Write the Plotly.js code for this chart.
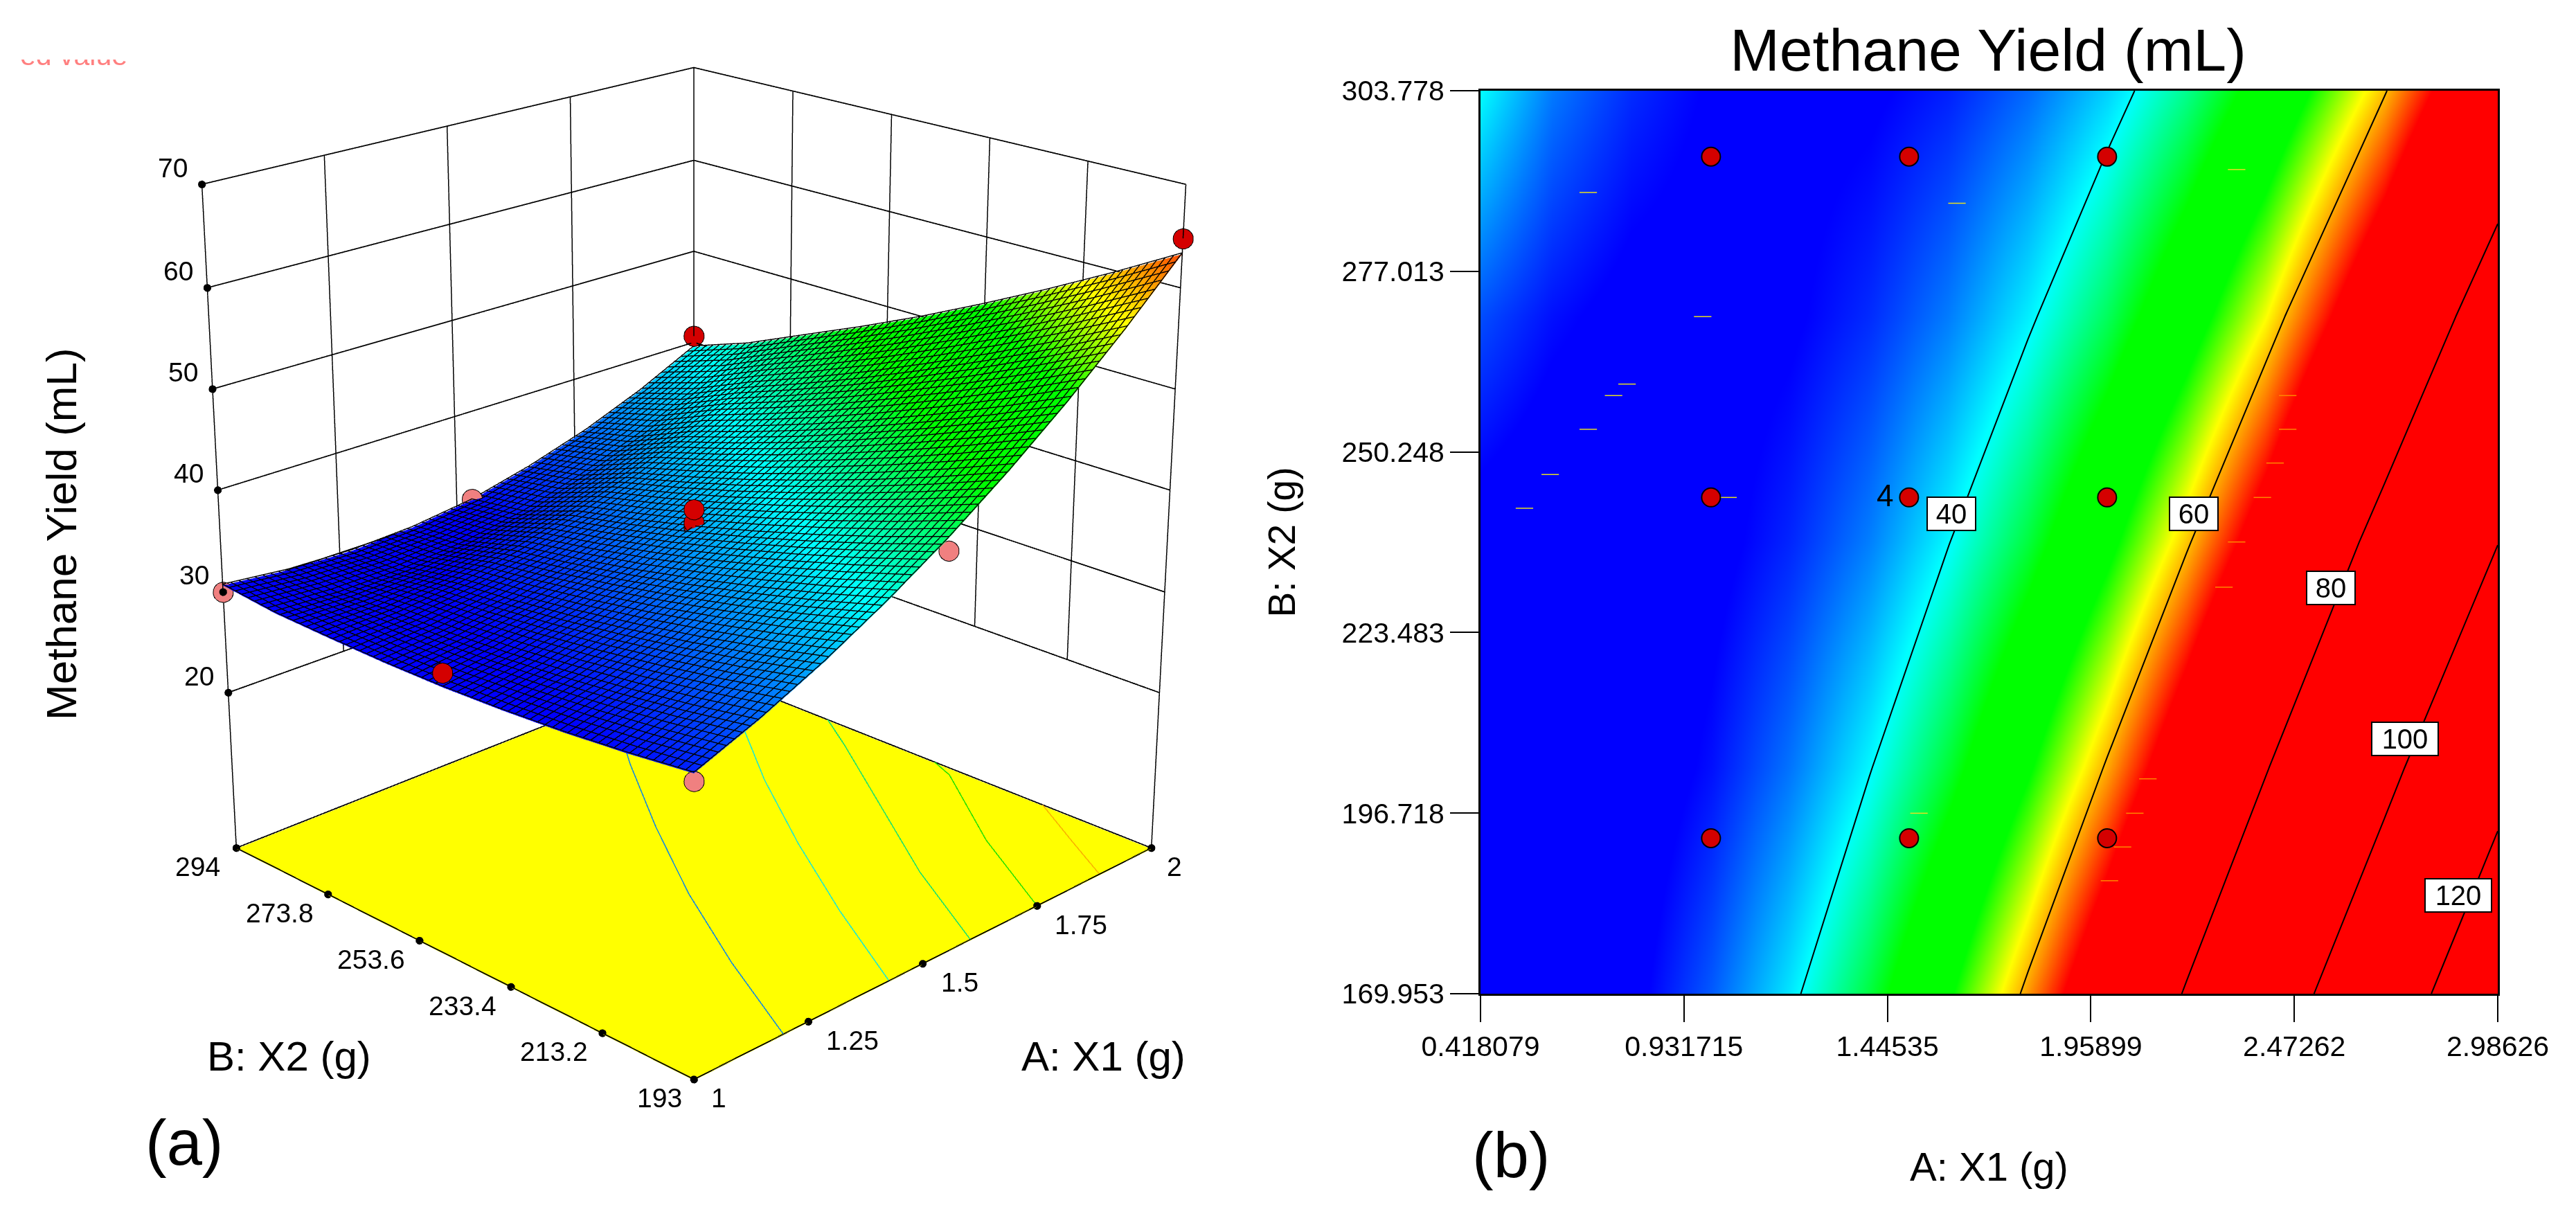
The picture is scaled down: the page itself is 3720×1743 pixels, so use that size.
<!DOCTYPE html>
<html><head><meta charset="utf-8">
<script src="https://cdn.plot.ly/plotly-3.0.1.min.js"></script>
<style>
html,body{margin:0;padding:0;background:#fff;width:3720px;height:1743px;overflow:hidden}
#wrap{position:relative;width:3720px;height:1743px;overflow:hidden}
#a{position:absolute;left:2px;top:-1341px;width:2000px;height:4206px}
#b{position:absolute;left:0;top:0;width:3720px;height:1743px}
</style></head><body>
<div id="wrap"><div id="a"></div><div id="b"></div></div>
<script>
var FONT='Liberation Sans, Arial, sans-serif';
// ---- panel (a): response surface
var surfA=[1,1.125,1.25,1.375,1.5,1.625,1.75,1.875,2];
var surfB=[193,205.625,218.25,230.875,243.5,256.125,268.75,281.375,294];
var surfZ=[
[32.79,35.17,37.95,41.17,44.79,48.86,53.32,58.23,63.55],
[32.04,34.06,36.51,39.38,42.67,46.39,50.52,55.08,60.06],
[31.46,33.14,35.26,37.79,40.74,44.11,47.90,52.12,56.76],
[31.06,32.39,34.16,36.36,38.97,42.00,45.45,49.33,53.63],
[30.81,31.80,33.24,35.08,37.35,40.03,43.15,46.68,50.64],
[30.75,31.40,32.49,34.00,35.92,38.27,41.05,44.24,47.86],
[30.84,31.16,31.91,33.08,34.67,36.67,39.11,41.96,45.24],
[31.00,30.75,30.90,31.50,32.60,34.40,36.60,39.40,42.60],
[31.57,30.90,30.70,31.00,31.80,33.30,35.20,37.60,40.50]];
var aTicks=[1,1.25,1.5,1.75,2];
var aTickText=['1','1.25','1.5','1.75','2'];
var aTickPos=[1,1.2266,1.4678,1.725,2];
var bTicks=[193,213.2,233.4,253.6,273.8,294];
var bTickText=['193','213.2','233.4','253.6','273.8','294'];
var bTickPos=[193,211.2,230.3,250.4,271.6,294];
var zTicks=[20,30,40,50,60,70];
var zTickPos=[20.7,30.9,41.0,50.8,60.4,70];
var zFloor=4.4;
var meshCells=66;
var redA=[2,2,1,1.5,1.5,1.5];
var redB=[193,294,243.5,243.5,243.5,243.5];
var redZ=[65,41.7,32.2,39.1,37.8,37.4];
var pinkA=[1,1,1.5,1.5,2];
var pinkB=[294,193,193,294,243.5];
var pinkZ=[30.9,32.1,43.6,31.9,49];
// floor contours, read from the yellow base
var floorLines=[
 {c:'#0a84e8',a:[1.176,1.275,1.385,1.51,1.645,1.80],b:[193,213,233,253,273,294]},
 {c:'#14e6d8',a:[1.395,1.505,1.625,1.755,1.90,2],b:[193,213,233,253,273,286]},
 {c:'#10e070',a:[1.573,1.685,1.815,1.945,2],b:[193,213,233,253,262]},
 {c:'#20e000',a:[1.725,1.84,1.98,2],b:[193,213,233,238]},
 {c:'#f8b000',a:[1.873,1.93,2],b:[193,203,215]}];

// ---- panel (b): contour map
var mapX=[0.418079,0.6,0.8,1.0,1.2,1.4,1.6,1.8,2.0,2.2,2.4,2.7,2.98626];
var mapY=[169.953,203.41,236.87,270.32,303.778];
var mapZ=[
[25.6,27.29,30.17,34.14,39.18,45.3,52.51,60.79,70.15,80.6,92.12,111.43,132.1],
[27.1,27.5,29.0,31.5,35.1,39.8,45.6,52.5,60.4,69.4,79.5,96.7,115.3],
[29.8,28.9,28.9,30.1,32.3,35.5,39.9,45.3,51.9,59.5,68.1,83.2,99.8],
[33.7,31.5,30.1,29.8,30.6,32.5,35.4,39.4,44.5,50.7,57.9,70.8,85.4],
[40,35.3,32.5,30.77,30.13,30.56,32.08,34.67,38.35,43.1,48.94,59.71,72.24]];
var ptX=[1,1.5,2,1,1.5,2,1,1.5,2];
var ptY=[294,294,294,243.5,243.5,243.5,193,193,193];
var dashX=[0.690,1.621,0.979,0.788,0.754,0.690,0.594,0.529,1.043,2.327,2.456,2.456,2.424,2.392,2.327,2.295,1.525,2.103,2.070,2.039,2.006];
var dashY=[288.7,287.1,270.3,260.3,258.6,253.6,246.9,241.9,243.5,292.1,258.6,253.6,248.6,243.5,236.9,230.2,196.7,201.8,196.7,191.7,186.7];
var dashC=['#e8e020','#e8e020','#e8e020','#e8e020','#e8e020','#e8e020','#e8e020','#e8e020','#e8e020','#e8e020',
 '#ff8800','#ff8800','#ff8800','#ff8800','#ff8800','#ff8800','#e8e020','#ff8800','#ff8800','#ff8800','#ff8800'];
var xTickVals=[0.418079,0.931715,1.44535,1.95899,2.47262,2.98626];
var xTickText=['0.418079','0.931715','1.44535','1.95899','2.47262','2.98626'];
var yTickVals=[169.953,196.718,223.483,250.248,277.013,303.778];
var yTickText=['169.953','196.718','223.483','250.248','277.013','303.778'];
var levelLabels=['40','60','80','100','120'];
var levelX=[1.607,2.219,2.565,2.752,2.886];
var levelY=[241.1,241.1,230.1,207.7,184.5];

var zMin=31,zMax=65;
var scale=[[0,'#0000ff'],[0.2647,'#00ffff'],[0.4706,'#00ff00'],[0.647,'#00ff00'],[0.794,'#ffff00'],[1,'#ff0000']];

// wall and floor frame from the tick arrays
var a0=aTicks[0],a1=aTicks[aTicks.length-1],b0=bTicks[0],b1=bTicks[bTicks.length-1];
var zTop=zTickPos[zTickPos.length-1],zBot=zTickPos[0];
var hx=[],hy=[],hz=[],vx=[],vy=[],vz=[];
zTickPos.forEach(function(z){hx.push(a0,a1,a1,null);hy.push(b1,b1,b0,null);hz.push(z,z,z,null);});
aTickPos.slice(1,-1).forEach(function(a){vx.push(a,a,null);vy.push(b1,b1,null);vz.push(zBot,zTop,null);});
bTickPos.slice(1,-1).forEach(function(b){vx.push(a1,a1,null);vy.push(b,b,null);vz.push(zBot,zTop,null);});
vx.push(a0,a0,null,a1,a1,null,a1,a1,null);
vy.push(b1,b1,null,b0,b0,null,b1,b1,null);
vz.push(zFloor,zTop,null,zFloor,zTop,null,zBot,zTop,null);

// mesh drawn on the surface: straight walk over the surfZ table
function surfAt(a,b){
 var i=Math.min(surfA.length-2,Math.floor((a-a0)/(a1-a0)*(surfA.length-1)));
 var j=Math.min(surfB.length-2,Math.floor((b-b0)/(b1-b0)*(surfB.length-1)));
 var u=(a-surfA[i])/(surfA[i+1]-surfA[i]),v=(b-surfB[j])/(surfB[j+1]-surfB[j]);
 return (1-u)*(1-v)*surfZ[j][i]+u*(1-v)*surfZ[j][i+1]+(1-u)*v*surfZ[j+1][i]+u*v*surfZ[j+1][i+1];
}
var mx=[],my=[],mz=[],lift=0.12,steps=16;
for(var n=0;n<=meshCells;n++){
 var fa=a0+(a1-a0)*n/meshCells,fb=b0+(b1-b0)*n/meshCells;
 for(var s=0;s<=steps;s++){var t=b0+(b1-b0)*s/steps;mx.push(fa);my.push(t);mz.push(surfAt(fa,t)+lift);}
 mx.push(null);my.push(null);mz.push(null);
 for(var s2=0;s2<=steps;s2++){var t2=a0+(a1-a0)*s2/steps;mx.push(t2);my.push(fb);mz.push(surfAt(t2,fb)+lift);}
 mx.push(null);my.push(null);mz.push(null);
}

var zLine=zFloor+0.1;
var flat={ambient:1,diffuse:0,specular:0,fresnel:0};
var tracesA=[
 {type:'surface',x:[a0,a1],y:[b0,b1],z:[[zFloor,zFloor],[zFloor,zFloor]],showscale:false,
  colorscale:[[0,'#ffff00'],[1,'#ffff00']],cmin:0,cmax:1,hoverinfo:'skip',lighting:flat},
 {type:'scatter3d',mode:'lines',x:hx,y:hy,z:hz,line:{color:'#000',width:3.5},hoverinfo:'skip',showlegend:false},
 {type:'scatter3d',mode:'lines',x:vx,y:vy,z:vz,line:{color:'#000',width:3},hoverinfo:'skip',showlegend:false},
 {type:'scatter3d',mode:'lines',x:[a0,a1,a1,a0,a0],y:[b0,b0,b1,b1,b0],z:[zLine,zLine,zLine,zLine,zLine],
  line:{color:'#000',width:3.5},hoverinfo:'skip',showlegend:false},
 {type:'surface',x:surfA,y:surfB,z:surfZ,showscale:false,colorscale:scale,cmin:zMin+0.6,cmax:zMax+0.6,hoverinfo:'skip',lighting:flat},
 {type:'scatter3d',mode:'lines',x:mx,y:my,z:mz,line:{color:'#000',width:2.8},hoverinfo:'skip',showlegend:false},
 {type:'scatter3d',mode:'markers',x:redA,y:redB,z:redZ,hoverinfo:'skip',showlegend:false,
  marker:{size:17,color:'#d40000',opacity:1,line:{color:'#000',width:2}}},
 {type:'scatter3d',mode:'markers',x:pinkA,y:pinkB,z:pinkZ,hoverinfo:'skip',showlegend:false,
  marker:{size:17,color:'#f08080',opacity:1,line:{color:'#000',width:2}}},
 {type:'scatter3d',mode:'markers',hoverinfo:'skip',showlegend:false,
  x:zTickPos.map(function(){return a0;}).concat(aTickPos,bTickPos.map(function(){return a0;})),
  y:zTickPos.map(function(){return b1;}).concat(aTickPos.map(function(){return b0;}),bTickPos),
  z:zTickPos.concat(aTickPos.map(function(){return zLine;}),bTickPos.map(function(){return zLine;})),
  marker:{size:6.5,color:'#000'}}
];
floorLines.forEach(function(l){
 tracesA.push({type:'scatter3d',mode:'lines',x:l.a,y:l.b,z:l.a.map(function(){return zLine;}),
  line:{color:l.c,width:3},hoverinfo:'skip',showlegend:false});
});

var tickFont={family:FONT,size:39,color:'#000'};
var tickFontB={family:FONT,size:41,color:'#000'};
var sceneAnn=[];
function sa(x,y,z,t,dx,dy){sceneAnn.push({x:x,y:y,z:z,text:t,showarrow:false,xshift:dx,yshift:dy,font:tickFont});}
zTickPos.forEach(function(z,i){sa(a0,b1,z,String(zTicks[i]),-42,24);});
aTickPos.forEach(function(a,i){sa(a,b0,zLine,aTickText[i],[36,64,54,63,33][i],-27);});
bTickPos.forEach(function(b,i){sa(a0,b,zLine,bTickText[i],i==0?-50:(i==5?-56:-70),-27);});

var hideAxis=function(r){return {range:r,showgrid:false,zeroline:false,showline:false,showticklabels:false,
  ticks:'',showbackground:false,showspikes:false,title:{text:''}};};
Plotly.newPlot('a',tracesA,{
 width:2000,height:4206,margin:{l:0,r:0,t:0,b:0},paper_bgcolor:'rgba(0,0,0,0)',showlegend:false,
 scene:{domain:{x:[0,1],y:[0,1]},bgcolor:'rgba(0,0,0,0)',
  xaxis:hideAxis([0.99,2.01]),yaxis:hideAxis([192,295]),zaxis:hideAxis([4.2,70.4]),
  aspectmode:'manual',aspectratio:{x:1.02,y:1.02,z:1.0707},
  camera:{eye:{x:-3.46,y:-3.46,z:1.885},center:{x:0,y:0,z:0},up:{x:0,y:0,z:1},projection:{type:'perspective'}},
  annotations:sceneAnn}
},{displayModeBar:false,plotGlPixelRatio:1});

function px(x){return x/3720;} function py(y){return 1-y/1743;}
function label(x,y,t,size,rot,color){return {xref:'paper',yref:'paper',x:px(x),y:py(y),xanchor:'center',yanchor:'middle',
  text:t,showarrow:false,textangle:rot||0,font:{family:FONT,size:size,color:color||'#000'}};}
var ann=[
 label(88,771,'Methane Yield (mL)',62,-90),
 label(417,1525,'B: X2 (g)',60),
 label(1593,1525,'A: X1 (g)',60),
 label(266,1650,'(a)',92),
 label(2182,1668,'(b)',92),
 label(106,80,'ed value',41,0,'#ff8080'),
 {xref:'paper',yref:'paper',x:px(0),y:py(86),xanchor:'left',yanchor:'bottom',width:230,height:40,text:'&nbsp;',showarrow:false,bgcolor:'#fff',borderwidth:0,font:{size:10}},
 {xref:'x',yref:'y',x:1.439,y:243.8,text:'4',showarrow:false,font:{family:FONT,size:44,color:'#000'}}
];
levelLabels.forEach(function(t,i){
 ann.push({xref:'x',yref:'y',x:levelX[i],y:levelY[i],text:t,showarrow:false,bgcolor:'#fff',bordercolor:'#000',borderwidth:2,
   width:t.length>2?92:66,height:44,font:{family:FONT,size:40,color:'#000'}});
});
var tracesB=[
 {type:'heatmap',x:mapX,y:mapY,z:mapZ,zsmooth:'best',zmin:zMin,zmax:zMax,colorscale:scale,showscale:false,hoverinfo:'skip'},
 {type:'contour',x:mapX,y:mapY,z:mapZ,showscale:false,hoverinfo:'skip',
  contours:{coloring:'none',start:40,end:120,size:20,showlabels:false},line:{color:'#000',width:2,smoothing:0}},
 {type:'scatter',mode:'markers',x:dashX,y:dashY,hoverinfo:'skip',showlegend:false,
  marker:{symbol:'line-ew',size:18,line:{color:dashC,width:1.5}}},
 {type:'scatter',mode:'markers',x:ptX,y:ptY,hoverinfo:'skip',showlegend:false,
  marker:{size:27,color:'#d40000',line:{color:'#000',width:2}}}
];
Plotly.newPlot('b',tracesB,{
 width:3720,height:1743,margin:{l:0,r:0,t:0,b:0},paper_bgcolor:'rgba(0,0,0,0)',plot_bgcolor:'rgba(0,0,0,0)',showlegend:false,
 title:{text:'Methane Yield (mL)',x:px(2871),y:py(72),xanchor:'center',yanchor:'middle',xref:'paper',yref:'paper',font:{family:FONT,size:86,color:'#000'}},
 xaxis:{domain:[px(2138),px(3607)],range:[0.418079,2.98626],tickmode:'array',tickvals:xTickVals,ticktext:xTickText,
  ticks:'outside',ticklen:38,tickwidth:2,tickcolor:'#000',showgrid:false,zeroline:false,showline:true,mirror:true,linecolor:'#000',linewidth:3,
  tickfont:tickFontB,title:{text:'A: X1 (g)',standoff:132,font:{family:FONT,size:58,color:'#000'}}},
 yaxis:{domain:[py(1435),py(131)],range:[169.953,303.778],tickmode:'array',tickvals:yTickVals,ticktext:yTickText,
  ticks:'outside',ticklen:41,tickwidth:2,tickcolor:'#000',showgrid:false,zeroline:false,showline:true,mirror:true,linecolor:'#000',linewidth:3,
  tickfont:tickFontB,title:{text:'B: X2 (g)',standoff:50,font:{family:FONT,size:55,color:'#000'}}},
 annotations:ann
},{displayModeBar:false,staticPlot:true});
</script>
</body></html>
